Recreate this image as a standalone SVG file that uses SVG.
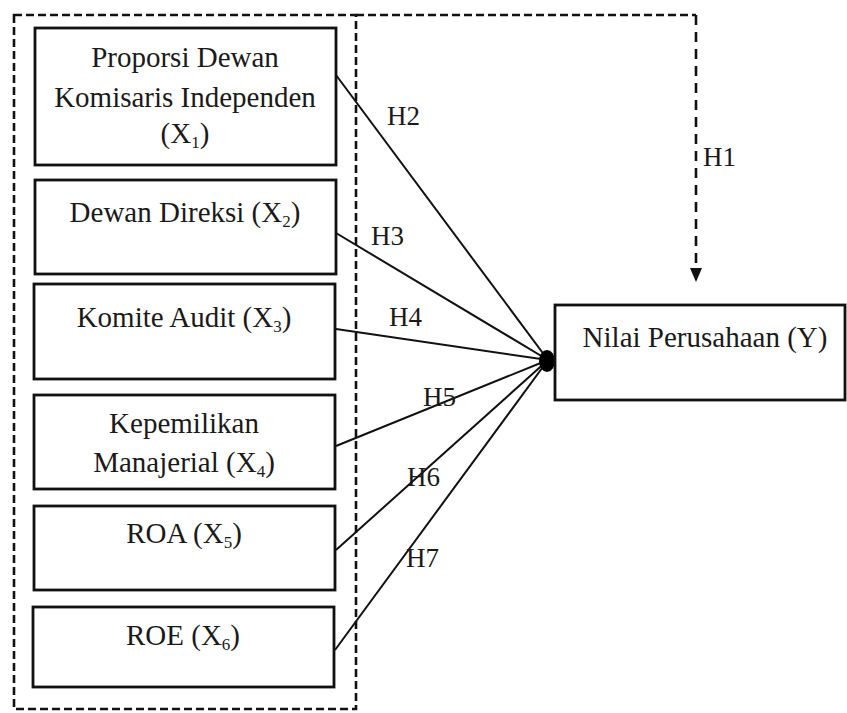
<svg xmlns="http://www.w3.org/2000/svg" width="847" height="713" viewBox="0 0 847 713">
<defs>
<style>
.box{fill:#fff;stroke:#111;stroke-width:2.8}
.t{font-family:"Liberation Serif","Times New Roman",serif;font-size:29px;fill:#1a1a1a;text-anchor:middle}
.h{font-family:"Liberation Serif","Times New Roman",serif;font-size:27px;fill:#1a1a1a}
.sub{font-size:17px}
.ln{stroke:#111;stroke-width:2;fill:none}
.dash{stroke:#111;stroke-width:2.6;fill:none;stroke-dasharray:8 4}
.dashv{stroke:#111;stroke-width:2.6;fill:none;stroke-dasharray:10 7}
</style>
</defs>
<rect width="847" height="713" fill="#fff"/>
<g id="group-frame">
<rect x="14" y="15" width="342" height="694" class="dash"/>
</g>
<g id="connectors">
<path d="M356 15 H696" class="dash"/>
<path d="M696 15 V270" class="dashv"/>
<polygon points="690,268 702,268 696,282" fill="#111"/>
<line x1="336" y1="75" x2="548" y2="360" class="ln"/>
<line x1="336" y1="233" x2="548" y2="360" class="ln"/>
<line x1="336" y1="329" x2="548" y2="360" class="ln"/>
<line x1="336" y1="446" x2="548" y2="360" class="ln"/>
<line x1="336" y1="550" x2="548" y2="360" class="ln"/>
<line x1="335" y1="650" x2="548" y2="360" class="ln"/>
<ellipse cx="547" cy="361" rx="8" ry="11" fill="#000"/>
<text x="703" y="166" class="h">H1</text>
<text x="387" y="125" class="h">H2</text>
<text x="371" y="245" class="h">H3</text>
<text x="389" y="326" class="h">H4</text>
<text x="423" y="406" class="h">H5</text>
<text x="407" y="486" class="h">H6</text>
<text x="406" y="567" class="h">H7</text>
</g>
<g id="node-x1">
<rect x="35" y="28" width="301" height="137" class="box"/>
<text x="185" y="67" class="t">Proporsi Dewan</text>
<text x="185" y="107" class="t">Komisaris Independen</text>
<text x="185" y="143" class="t">(X<tspan class="sub" dy="5">1</tspan><tspan dy="-5">)</tspan></text>
</g>
<g id="node-x2">
<rect x="35" y="180" width="301" height="94" class="box"/>
<text x="185" y="222" class="t">Dewan Direksi (X<tspan class="sub" dy="5">2</tspan><tspan dy="-5">)</tspan></text>
</g>
<g id="node-x3">
<rect x="34" y="284" width="301" height="95" class="box"/>
<text x="184" y="327" class="t">Komite Audit (X<tspan class="sub" dy="5">3</tspan><tspan dy="-5">)</tspan></text>
</g>
<g id="node-x4">
<rect x="34" y="395" width="301" height="94" class="box"/>
<text x="184" y="433" class="t">Kepemilikan</text>
<text x="184" y="472" class="t">Manajerial (X<tspan class="sub" dy="5">4</tspan><tspan dy="-5">)</tspan></text>
</g>
<g id="node-x5">
<rect x="34" y="506" width="301" height="84" class="box"/>
<text x="184" y="543" class="t">ROA (X<tspan class="sub" dy="5">5</tspan><tspan dy="-5">)</tspan></text>
</g>
<g id="node-x6">
<rect x="33" y="607" width="301" height="80" class="box"/>
<text x="183" y="645" class="t">ROE (X<tspan class="sub" dy="5">6</tspan><tspan dy="-5">)</tspan></text>
</g>
<g id="node-y">
<rect x="555" y="305" width="290" height="95" class="box"/>
<text x="705" y="347" class="t">Nilai Perusahaan (Y)</text>
</g>
</svg>
